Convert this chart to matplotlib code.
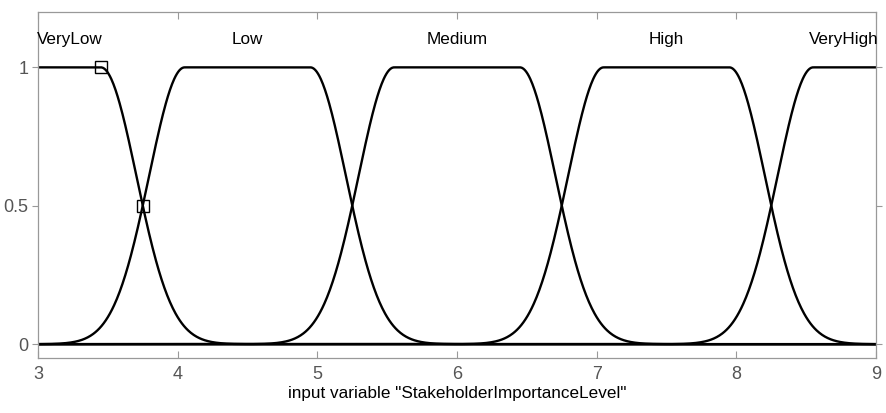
import numpy as np
import matplotlib
matplotlib.use("Agg")
import matplotlib.pyplot as plt

# two-sided gaussian membership functions (gauss2mf), params
mf_names = ["VeryLow", "Low", "Medium", "High", "VeryHigh"]
mf_sigma = [0.255, 0.255, 0.255, 0.255, 0.255]
mf_left = [2.55, 4.05, 5.55, 7.05, 8.55]
mf_right = [3.45, 4.95, 6.45, 7.95, 9.45]
label_x = [3.23, 4.5, 6.0, 7.5, 8.77]
marker_x = [3.45, 3.75]
marker_y = [1.0, 0.5]
x_range = [3, 9]


def gauss2mf(x, s, c1, c2):
    y = np.ones_like(x)
    lo = x < c1
    hi = x > c2
    y[lo] = np.exp(-(x[lo] - c1) ** 2 / (2 * s ** 2))
    y[hi] = np.exp(-(x[hi] - c2) ** 2 / (2 * s ** 2))
    return y


plt.rcParams["font.family"] = ["Liberation Sans", "DejaVu Sans"]

fig = plt.figure(figsize=(8.87, 4.13), dpi=100)
ax = fig.add_axes([38 / 887, 1 - 358 / 413, (876 - 38) / 887, (358 - 12) / 413])

x = np.linspace(x_range[0], x_range[1], 1201)
for s, c1, c2 in zip(mf_sigma, mf_left, mf_right):
    ax.plot(x, gauss2mf(x, s, c1, c2), color="black", lw=1.7, solid_capstyle="butt")

ax.plot(marker_x, marker_y, ls="none", marker="s", ms=8, mfc="none", mec="black", mew=1.0)

for name, lx in zip(mf_names, label_x):
    ax.text(lx, 1.1, name, ha="center", va="center", fontsize=12.3, color="black")

ax.set_xlim(x_range)
ax.set_ylim(-0.05, 1.2)
ax.set_xticks(range(3, 10))
ax.set_yticks([0, 0.5, 1])
ax.set_yticklabels(["0", "0.5", "1"])
ax.tick_params(direction="in", top=True, right=True, length=5, width=0.8,
               colors="#999999", labelcolor="#555555", labelsize=13)
ax.tick_params(axis="x", pad=6)
ax.tick_params(axis="y", which="both", left=True, direction="out", length=4, pad=3)
ax.tick_params(axis="y", right=True)
for s in ax.spines.values():
    s.set_color("#999999")
    s.set_linewidth(0.9)
ax.set_xlabel('input variable "StakeholderImportanceLevel"', fontsize=12.3, labelpad=2)

fig.savefig("out.png", dpi=100)
